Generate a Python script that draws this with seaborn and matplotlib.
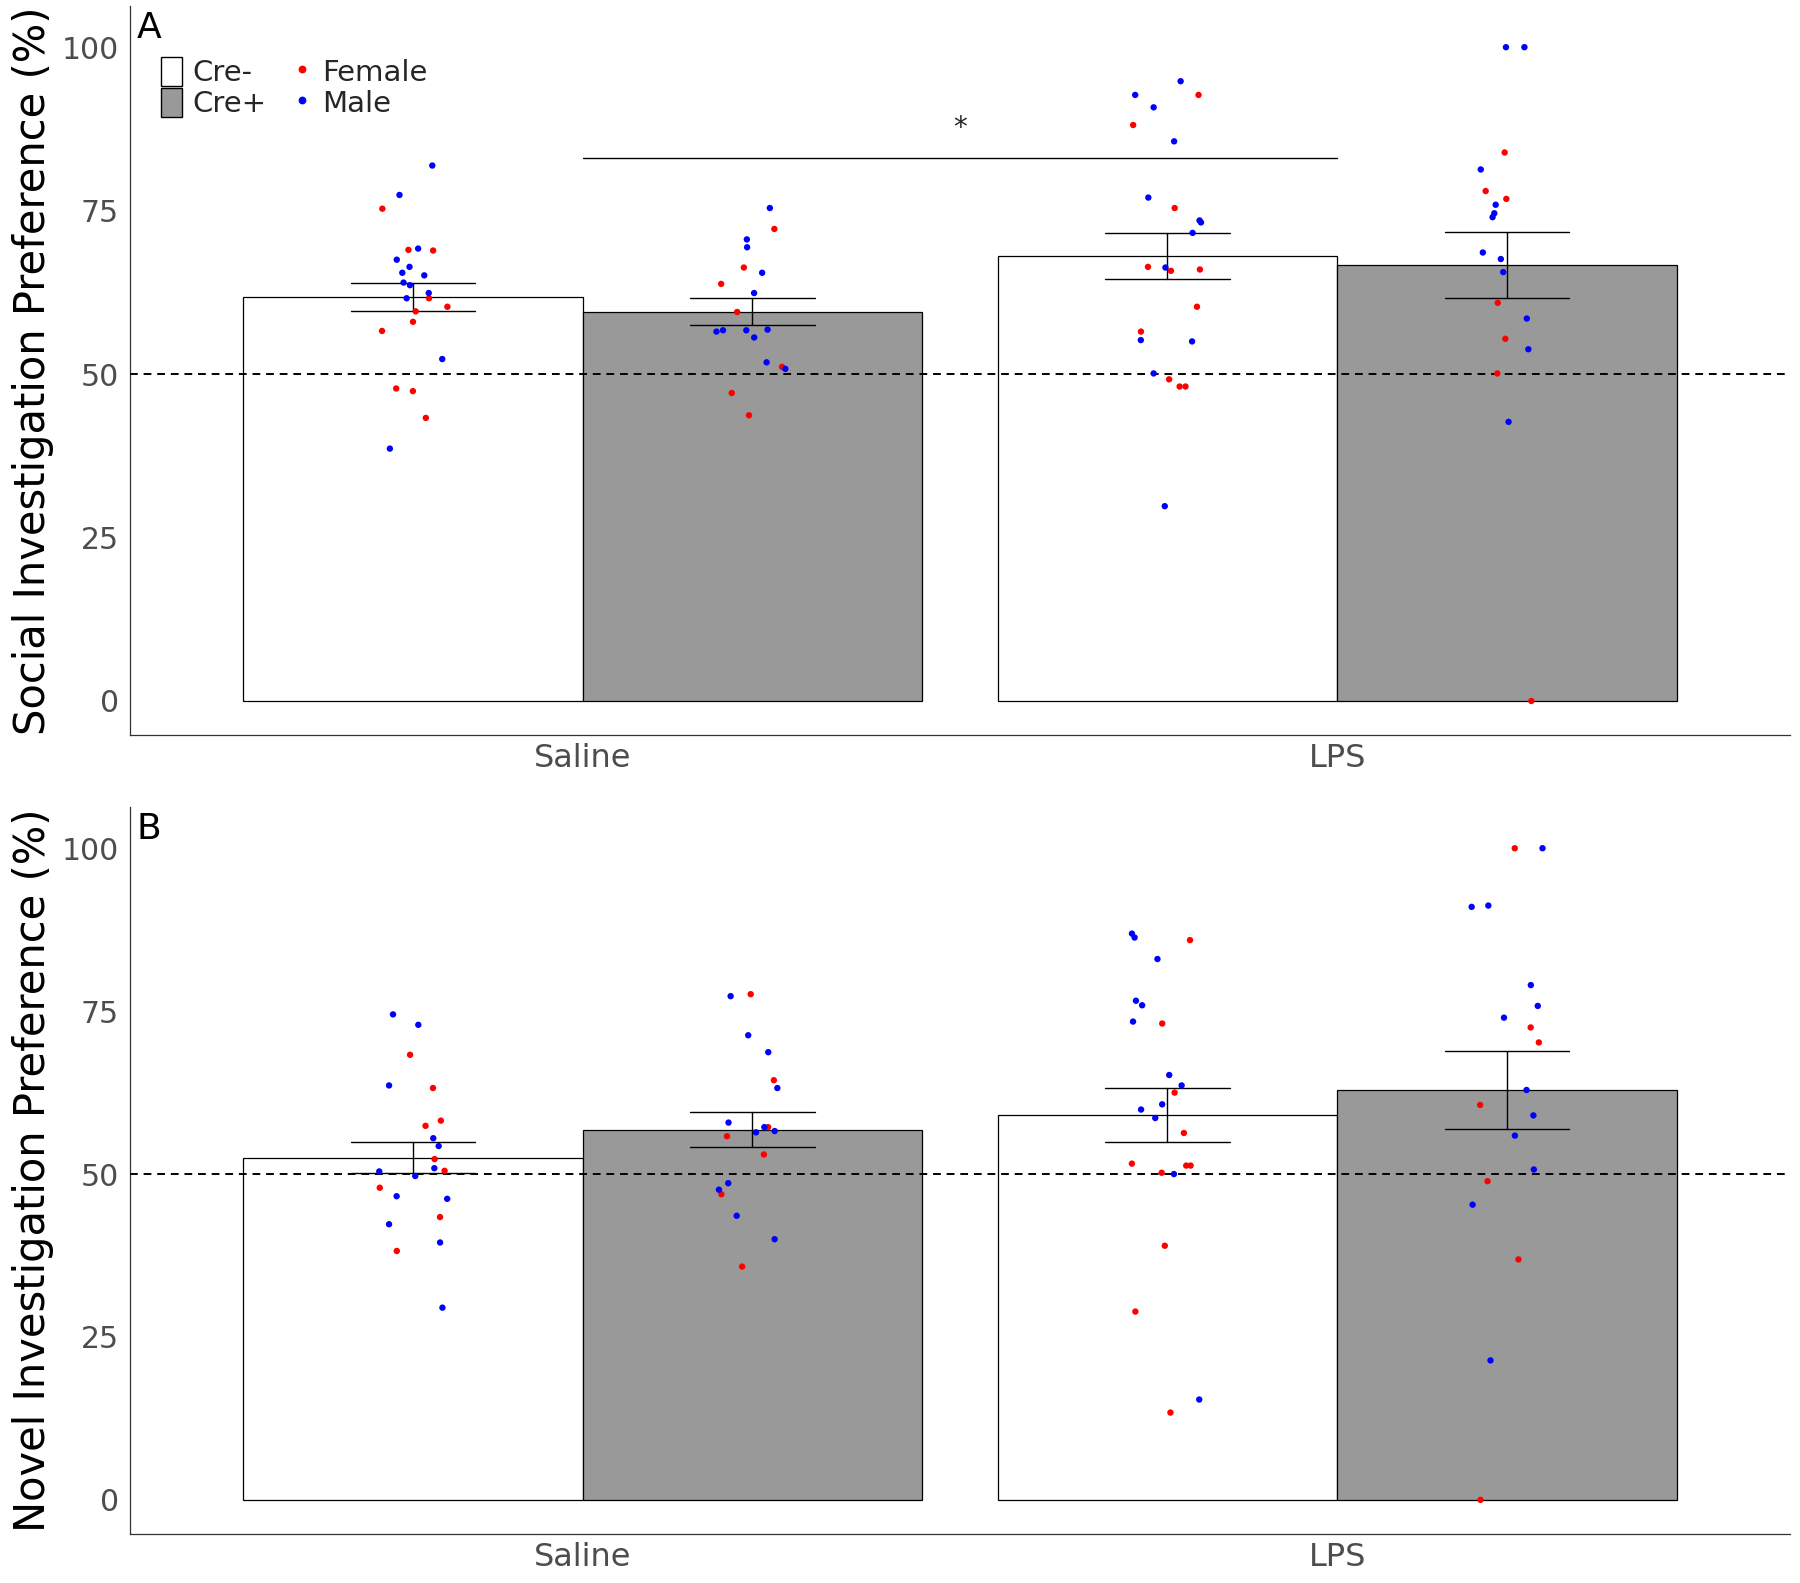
import numpy as np
import pandas as pd
import matplotlib

matplotlib.use("Agg")

import matplotlib.pyplot as plt
from matplotlib.patches import Patch
from matplotlib.lines import Line2D
import seaborn as sns

# ── data (percent preference per animal) ──
TREATMENTS = ["Saline", "LPS"]
GENOTYPES = ["Cre-", "Cre+"]
SEXES = ["Female", "Male"]

# Panel A: social investigation preference
social_saline_neg_f = [75.3, 68.9, 69.0, 61.6, 60.3, 59.6, 58.0, 56.6, 47.8, 47.4, 43.3]
social_saline_neg_m = [81.9, 77.4, 69.2, 67.5, 66.4, 65.5, 65.1, 64.0, 63.6, 62.4, 61.6, 52.3, 38.6]
social_saline_pos_f = [72.2, 66.3, 63.8, 59.5, 51.1, 47.1, 43.7]
social_saline_pos_m = [75.4, 70.6, 69.4, 65.5, 62.4, 56.7, 56.5, 56.7, 56.8, 55.6, 51.8, 50.8]
social_lps_neg_f = [92.7, 88.1, 75.4, 66.0, 66.4, 65.8, 60.3, 56.5, 49.2, 48.1, 48.1]
social_lps_neg_m = [94.8, 92.7, 90.8, 85.6, 77.0, 73.2, 73.5, 71.6, 66.3, 55.0, 55.2, 50.1, 29.8]
social_lps_pos_f = [83.9, 78.0, 76.8, 60.9, 55.4, 50.1, 0.0]
social_lps_pos_m = [100.0, 100.0, 81.3, 75.9, 74.6, 74.0, 68.6, 67.6, 65.6, 58.5, 53.8, 42.7]

# Panel B: novel investigation preference
novel_saline_neg_f = [68.3, 63.2, 58.2, 57.4, 52.3, 50.5, 47.9, 43.4, 38.2]
novel_saline_neg_m = [74.5, 72.9, 63.6, 55.5, 54.3, 50.4, 49.7, 50.9, 46.2, 46.6, 42.3, 39.5, 29.5]
novel_saline_pos_f = [77.6, 64.4, 57.2, 55.8, 53.0, 46.9, 35.8]
novel_saline_pos_m = [77.3, 71.3, 68.7, 63.2, 57.9, 57.2, 56.6, 56.4, 48.6, 47.6, 43.6, 40.0]
novel_lps_neg_f = [85.9, 73.1, 62.5, 56.3, 51.3, 51.3, 51.6, 50.2, 39.0, 28.9, 13.4]
novel_lps_neg_m = [86.3, 86.9, 83.0, 76.6, 75.9, 73.4, 65.2, 63.6, 60.7, 59.9, 58.6, 50.0, 15.4]
novel_lps_pos_f = [100.0, 72.5, 70.2, 60.6, 48.9, 36.9, 0.0]
novel_lps_pos_m = [100.0, 91.2, 91.0, 79.0, 75.8, 74.0, 62.9, 59.0, 55.9, 50.7, 45.3, 21.4]

GENO_FILL = {"Cre-": "white", "Cre+": "#999999"}
SEX_COLOR = {"Female": "#FF0000", "Male": "#0000FF"}
TICK_GREY = "#4D4D4D"
BAR_WIDTH = 0.9
DOT_SIZE = 4.6


def build_frame(groups):
    rows = []
    for (treat, geno, sex), vals in groups.items():
        for v in vals:
            rows.append({"treatment": treat, "genotype": geno, "sex": sex, "value": v})
    return pd.DataFrame(rows)


social_df = build_frame({
    ("Saline", "Cre-", "Female"): social_saline_neg_f,
    ("Saline", "Cre-", "Male"): social_saline_neg_m,
    ("Saline", "Cre+", "Female"): social_saline_pos_f,
    ("Saline", "Cre+", "Male"): social_saline_pos_m,
    ("LPS", "Cre-", "Female"): social_lps_neg_f,
    ("LPS", "Cre-", "Male"): social_lps_neg_m,
    ("LPS", "Cre+", "Female"): social_lps_pos_f,
    ("LPS", "Cre+", "Male"): social_lps_pos_m,
})
novel_df = build_frame({
    ("Saline", "Cre-", "Female"): novel_saline_neg_f,
    ("Saline", "Cre-", "Male"): novel_saline_neg_m,
    ("Saline", "Cre+", "Female"): novel_saline_pos_f,
    ("Saline", "Cre+", "Male"): novel_saline_pos_m,
    ("LPS", "Cre-", "Female"): novel_lps_neg_f,
    ("LPS", "Cre-", "Male"): novel_lps_neg_m,
    ("LPS", "Cre+", "Female"): novel_lps_pos_f,
    ("LPS", "Cre+", "Male"): novel_lps_pos_m,
})

sns.set_theme(style="ticks")
plt.rcParams["font.family"] = ["DejaVu Sans"]
np.random.seed(7)


def draw_panel(ax, df, ylabel, letter):
    sns.barplot(
        data=df, x="treatment", y="value", hue="genotype",
        order=TREATMENTS, hue_order=GENOTYPES, palette=GENO_FILL,
        saturation=1, width=BAR_WIDTH, edgecolor="black", linewidth=0.9,
        errorbar="se", capsize=0.33,
        err_kws={"color": "black", "linewidth": 1.0},
        legend=False, ax=ax,
    )
    ax.axhline(50, color="black", linestyle=(0, (4, 3)), linewidth=1.4, zorder=3)

    n_before = len(ax.collections)
    for sex in SEXES:
        sns.stripplot(
            data=df[df["sex"] == sex], x="treatment", y="value", hue="genotype",
            order=TREATMENTS, hue_order=GENOTYPES,
            palette={g: SEX_COLOR[sex] for g in GENOTYPES},
            dodge=True, jitter=0.085, size=DOT_SIZE, linewidth=0,
            legend=False, ax=ax, zorder=4,
        )
    # stripplot dodges with width 0.8; stretch to sit on the 0.9-wide bars
    for coll in ax.collections[n_before:]:
        xy = np.asarray(coll.get_offsets(), dtype=float)
        if len(xy) == 0:
            continue
        base = np.round(xy[:, 0])
        xy[:, 0] = base + (xy[:, 0] - base) * BAR_WIDTH / 0.8
        coll.set_offsets(xy)

    ax.set_xlim(-0.6, 1.6)
    ax.set_ylim(-5.2, 106.3)
    ax.set_yticks([0, 25, 50, 75, 100])
    ax.set_xlabel("")
    ax.set_ylabel(ylabel, fontsize=30, color="black")
    ax.yaxis.set_label_coords(-0.046, 0.5)
    ax.tick_params(axis="both", length=0, pad=8, labelcolor=TICK_GREY)
    ax.tick_params(axis="y", labelsize=21.5)
    ax.tick_params(axis="x", labelsize=23, pad=6)
    sns.despine(ax=ax)
    for side in ("left", "bottom"):
        ax.spines[side].set_color("#333333")
        ax.spines[side].set_linewidth(0.9)
    ax.text(0.004, 0.993, letter, transform=ax.transAxes, fontsize=26,
            ha="left", va="top", color="black")


fig = plt.figure(figsize=(18, 15.83), dpi=100)
ax_a = fig.add_axes([0.0722, 0.5357, 0.9222, 0.4605])
ax_b = fig.add_axes([0.0722, 0.0311, 0.9222, 0.459])

draw_panel(ax_a, social_df, "Social Investigation Preference (%)", "A")
draw_panel(ax_b, novel_df, "Novel Investigation Preference (%)", "B")

# significance bracket Saline vs LPS
ax_a.plot([0, 1], [83, 83], color="black", linewidth=1.0)
ax_a.text(0.5, 87.6, "*", ha="center", va="center", fontsize=20)

handles = [
    Patch(facecolor=GENO_FILL["Cre-"], edgecolor="black", label="Cre-"),
    Patch(facecolor=GENO_FILL["Cre+"], edgecolor="black", label="Cre+"),
    Line2D([], [], marker="o", linestyle="", markersize=DOT_SIZE,
           color=SEX_COLOR["Female"], label="Female"),
    Line2D([], [], marker="o", linestyle="", markersize=DOT_SIZE,
           color=SEX_COLOR["Male"], label="Male"),
]
ax_a.legend(
    handles=handles, ncol=2, loc="upper left", bbox_to_anchor=(0.0187, 0.93),
    frameon=False, fontsize=21, handlelength=0.72, handleheight=1.15,
    labelspacing=0.02, handletextpad=0.35, columnspacing=0.85,
    borderpad=0, borderaxespad=0,
)

fig.savefig("out.png", dpi=100)
